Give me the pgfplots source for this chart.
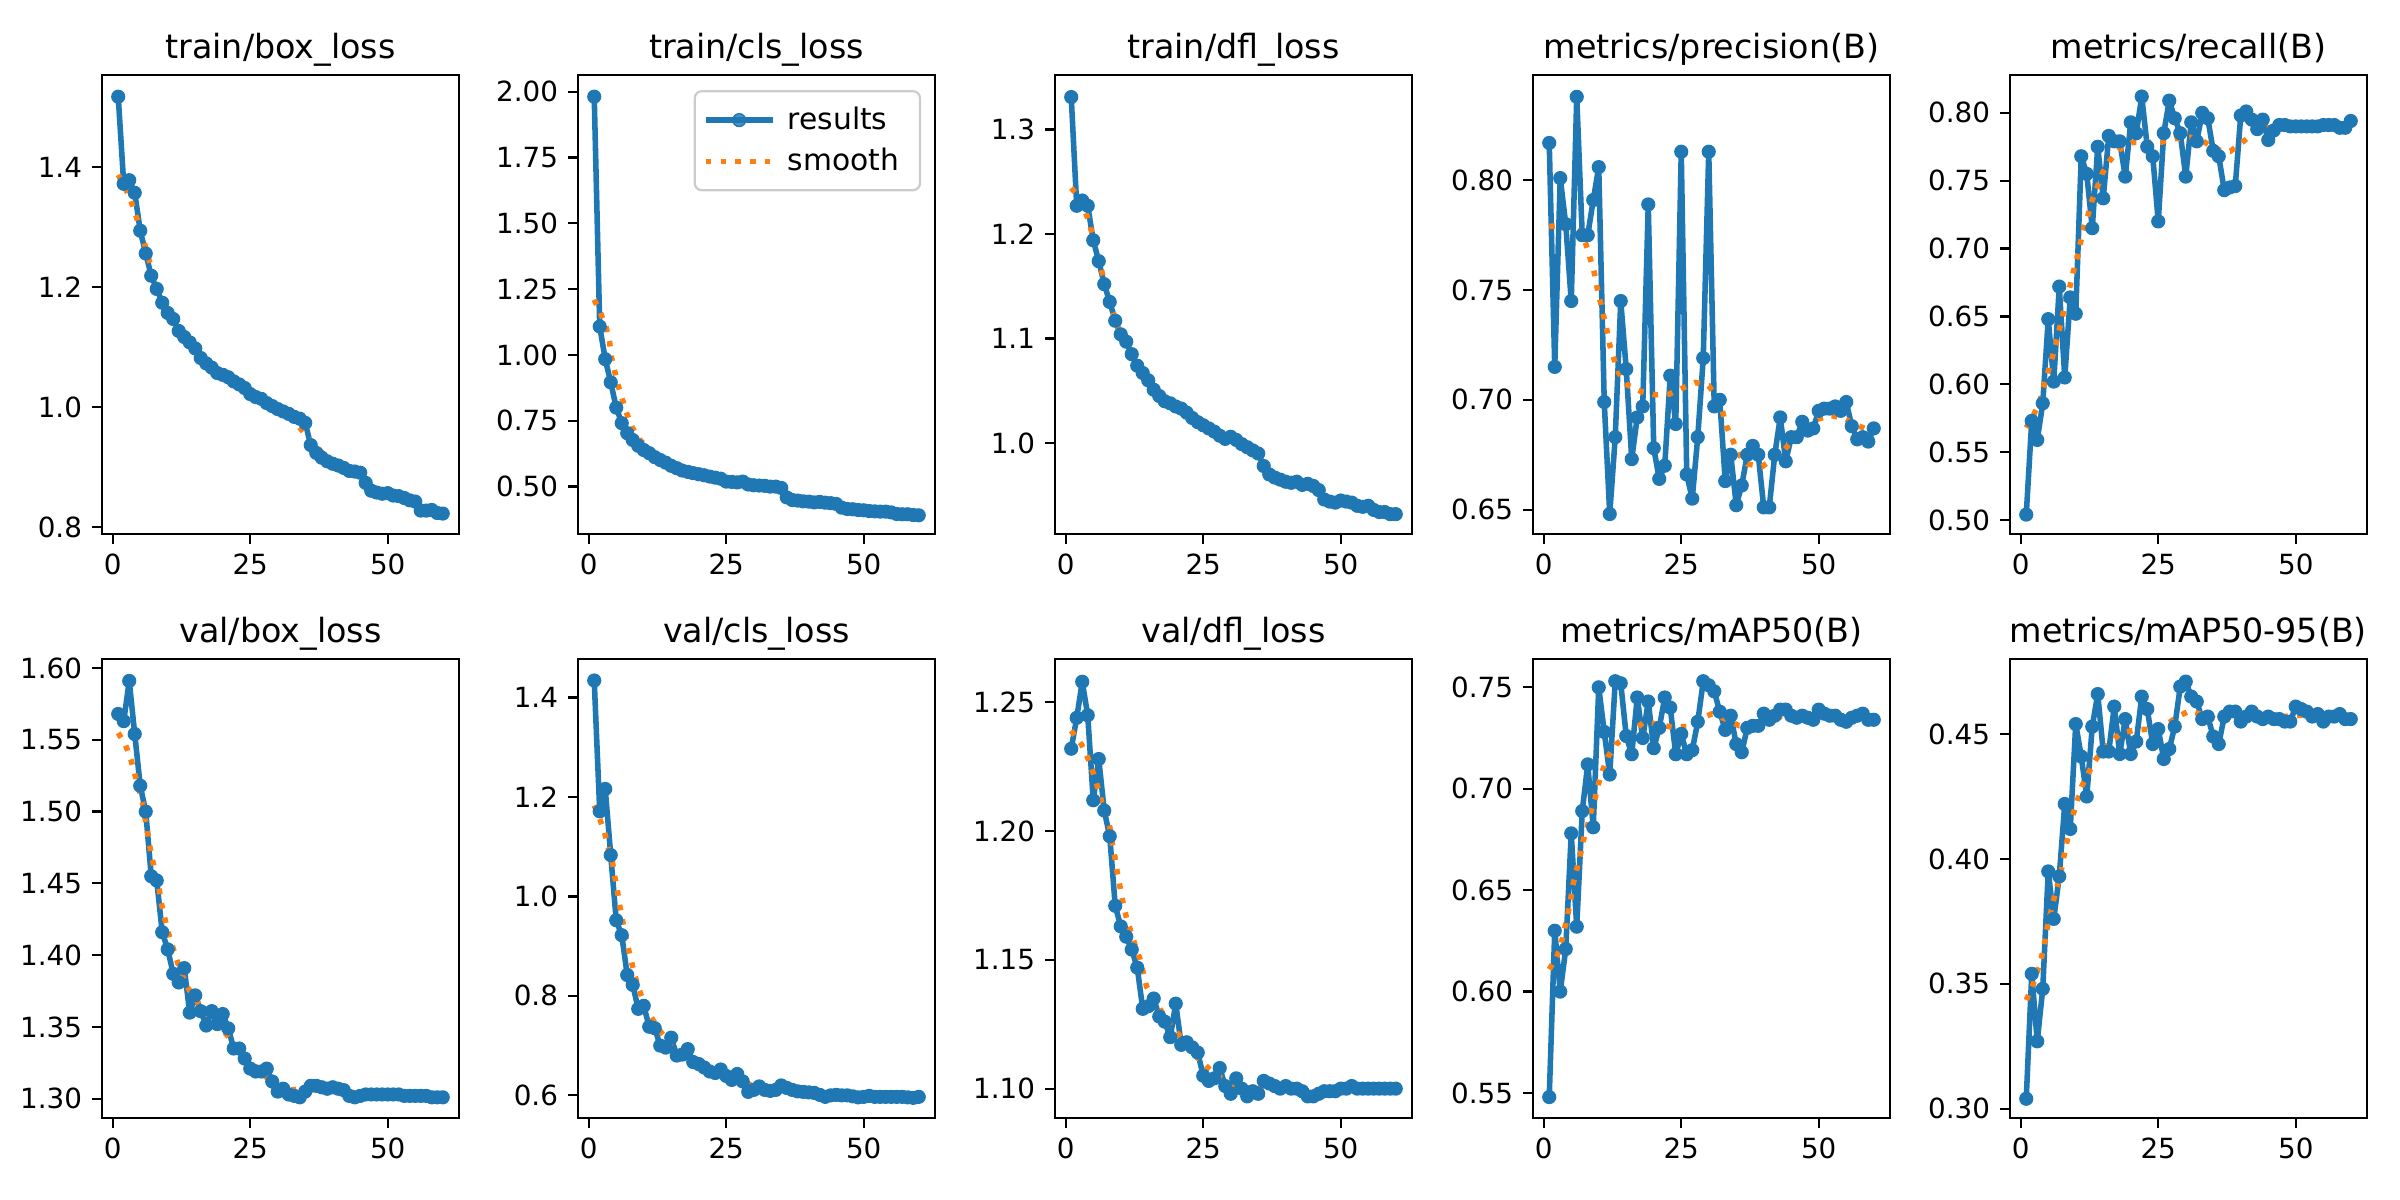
\documentclass[border=0pt]{standalone}
\usepackage{fontspec}
\setmainfont{DejaVu Sans}
\usepackage{pgfplots}
\usepackage{pgfplotstable}
\pgfplotsset{compat=1.18}

\definecolor{tabblue}{HTML}{1F77B4}
\definecolor{taborange}{HTML}{FF7F0E}

% per-epoch training log: losses and validation metrics
\pgfplotstableread{
ep tbox  tcls  tdfl  prec  rec   vbox  vcls  vdfl  mapf  mapb
1  1.517 1.981 1.331 0.817 0.504 1.568 1.434 1.232 0.548 0.304
2  1.372 1.108 1.227 0.715 0.573 1.563 1.171 1.244 0.630 0.354
3  1.378 0.984 1.232 0.801 0.559 1.591 1.216 1.258 0.600 0.327
4  1.357 0.896 1.227 0.780 0.586 1.554 1.083 1.245 0.621 0.348
5  1.294 0.800 1.194 0.745 0.648 1.518 0.952 1.212 0.678 0.395
6  1.256 0.741 1.174 0.838 0.602 1.500 0.922 1.228 0.632 0.376
7  1.219 0.703 1.152 0.775 0.672 1.455 0.842 1.208 0.689 0.393
8  1.197 0.677 1.135 0.775 0.605 1.452 0.822 1.198 0.712 0.422
9  1.174 0.655 1.117 0.791 0.664 1.416 0.774 1.171 0.681 0.412
10 1.157 0.639 1.104 0.806 0.652 1.404 0.780 1.163 0.750 0.454
11 1.147 0.627 1.097 0.699 0.768 1.387 0.738 1.159 0.728 0.441
12 1.127 0.612 1.085 0.648 0.755 1.381 0.735 1.154 0.707 0.425
13 1.117 0.601 1.074 0.683 0.715 1.391 0.700 1.147 0.753 0.453
14 1.108 0.591 1.067 0.745 0.775 1.360 0.696 1.131 0.752 0.466
15 1.098 0.579 1.060 0.714 0.737 1.372 0.716 1.132 0.726 0.443
16 1.082 0.570 1.051 0.673 0.783 1.361 0.680 1.135 0.717 0.443
17 1.073 0.561 1.045 0.692 0.779 1.351 0.682 1.128 0.745 0.461
18 1.066 0.556 1.040 0.697 0.779 1.361 0.693 1.126 0.725 0.442
19 1.057 0.551 1.038 0.789 0.753 1.352 0.667 1.120 0.743 0.456
20 1.054 0.547 1.035 0.678 0.793 1.359 0.663 1.133 0.720 0.442
21 1.050 0.543 1.033 0.664 0.785 1.349 0.656 1.117 0.730 0.447
22 1.043 0.538 1.029 0.670 0.812 1.335 0.648 1.118 0.745 0.465
23 1.038 0.534 1.024 0.711 0.775 1.335 0.645 1.116 0.740 0.460
24 1.032 0.530 1.020 0.689 0.768 1.328 0.652 1.114 0.717 0.446
25 1.022 0.519 1.017 0.813 0.720 1.321 0.639 1.105 0.727 0.452
26 1.017 0.518 1.014 0.666 0.785 1.319 0.631 1.103 0.717 0.440
27 1.014 0.516 1.011 0.655 0.809 1.319 0.643 1.104 0.719 0.444
28 1.007 0.519 1.007 0.683 0.796 1.321 0.628 1.108 0.733 0.453
29 1.002 0.508 1.004 0.719 0.785 1.312 0.607 1.101 0.753 0.469
30 0.997 0.505 1.006 0.813 0.753 1.305 0.611 1.098 0.751 0.471
31 0.993 0.504 1.003 0.697 0.793 1.307 0.618 1.104 0.748 0.465
32 0.989 0.503 0.999 0.700 0.779 1.303 0.611 1.100 0.738 0.463
33 0.984 0.500 0.996 0.663 0.800 1.302 0.609 1.097 0.729 0.456
34 0.981 0.500 0.993 0.675 0.796 1.301 0.611 1.099 0.736 0.457
35 0.974 0.495 0.990 0.652 0.772 1.305 0.620 1.098 0.722 0.449
36 0.937 0.459 0.978 0.661 0.768 1.309 0.615 1.103 0.718 0.446
37 0.924 0.449 0.970 0.675 0.743 1.309 0.611 1.102 0.730 0.457
38 0.916 0.447 0.967 0.679 0.745 1.308 0.608 1.101 0.731 0.459
39 0.910 0.444 0.965 0.675 0.746 1.307 0.607 1.100 0.731 0.459
40 0.906 0.443 0.963 0.651 0.798 1.308 0.606 1.101 0.737 0.455
41 0.903 0.440 0.962 0.651 0.801 1.307 0.605 1.100 0.734 0.457
42 0.899 0.442 0.963 0.675 0.795 1.306 0.601 1.100 0.736 0.459
43 0.894 0.439 0.960 0.692 0.788 1.302 0.597 1.099 0.739 0.457
44 0.893 0.437 0.961 0.672 0.795 1.301 0.600 1.097 0.739 0.456
45 0.891 0.434 0.959 0.683 0.780 1.302 0.601 1.097 0.736 0.457
46 0.874 0.420 0.955 0.683 0.787 1.303 0.600 1.098 0.735 0.456
47 0.861 0.415 0.946 0.690 0.791 1.303 0.600 1.099 0.736 0.456
48 0.858 0.414 0.944 0.686 0.791 1.303 0.598 1.099 0.735 0.455
49 0.856 0.411 0.943 0.687 0.790 1.303 0.596 1.099 0.734 0.455
50 0.857 0.410 0.945 0.695 0.790 1.303 0.597 1.100 0.739 0.461
51 0.853 0.407 0.944 0.696 0.790 1.303 0.599 1.100 0.737 0.460
52 0.852 0.406 0.943 0.696 0.790 1.303 0.597 1.101 0.736 0.459
53 0.849 0.405 0.940 0.697 0.790 1.302 0.597 1.100 0.736 0.457
54 0.845 0.405 0.939 0.695 0.790 1.302 0.597 1.100 0.734 0.458
55 0.843 0.402 0.940 0.699 0.791 1.302 0.597 1.100 0.733 0.455
56 0.828 0.396 0.936 0.688 0.791 1.302 0.597 1.100 0.735 0.457
57 0.828 0.395 0.934 0.682 0.791 1.302 0.597 1.100 0.736 0.457
58 0.829 0.395 0.934 0.683 0.789 1.301 0.596 1.100 0.737 0.458
59 0.824 0.392 0.932 0.681 0.789 1.301 0.595 1.100 0.734 0.456
60 0.823 0.391 0.932 0.687 0.794 1.301 0.597 1.100 0.734 0.456
}\results

\pgfplotsset{
  panel/.style={
    scale only axis, width=128.5bp, height=165.2bp, anchor=south west,
    xmin=-1.95, xmax=62.95, xtick={0,25,50},
    tick pos=left, tick align=outside, major tick length=3.5bp,
    tick style={line width=0.8bp, black},
    line width=0.8bp,
    ticklabel style={font=\fontsize{10bp}{12bp}\selectfont},
    every axis title shift=0pt,
    title style={font=\fontsize{12bp}{14bp}\selectfont, at={(0.5,1)}, anchor=base, yshift=6bp, inner sep=0pt},
    /pgf/number format/assume math mode=true,
    scaled y ticks=false,
    yticklabel style={/pgf/number format/.cd, fixed, fixed zerofill, precision=#1},
    legend image code/.code={\draw[mark repeat=2,mark phase=2] plot coordinates {(0bp,0bp) (12bp,0bp) (24bp,0bp)};},
  },
  res/.style={color=tabblue, line width=2bp, line join=round, mark=*, mark size=2.3bp, mark options={solid, fill=tabblue, draw=tabblue, line width=0.5bp}},
  smo/.style={color=taborange, line width=2bp, dash pattern=on 2bp off 3.3bp, no marks},
}

\begin{document}
\begin{tikzpicture}
\useasboundingbox (0,0) rectangle (864bp,432bp);

% ---------------- top row ----------------
\begin{axis}[panel=1, at={(36.72bp,239.76bp)}, title={train/box\_loss},
  ymin=0.789, ymax=1.553, ytick={0.8,1.0,1.2,1.4}]
\addplot[res] table[x=ep, y=tbox] {\results};
\addplot[smo] coordinates {(1,1.387) (3,1.352) (5,1.298) (7,1.232) (9,1.182) (11,1.145) (13,1.118) (15,1.097) (17,1.075) (19,1.060) (21,1.049) (23,1.038) (25,1.026) (27,1.014) (29,1.003) (31,0.994) (32.4,0.981) (34.3,0.963) (36,0.944) (37.8,0.927) (39,0.914) (41,0.903) (43,0.895) (45,0.885) (47,0.866) (49,0.857) (51,0.853) (53,0.848) (55,0.840) (57,0.831) (59,0.826) (60,0.825)};
\end{axis}

\begin{axis}[panel=2, at={(208.08bp,239.76bp)}, title={train/cls\_loss},
  ymin=0.320, ymax=2.063, ytick={0.5,0.75,1.0,1.25,1.5,1.75,2.0},
  legend style={at={(1,1)}, anchor=north east, xshift=-5bp, yshift=-5.4bp,
    draw=black!20, line width=0.8bp, rounded corners=2.5bp, fill=white, fill opacity=0.8, text opacity=1,
    font=\fontsize{10.7bp}{12.8bp}\selectfont, inner xsep=3bp, inner ysep=3bp, row sep=0bp,
    nodes={inner xsep=4.5bp, inner ysep=2.6bp}},
  legend cell align=left]
\addplot[res] table[x=ep, y=tcls] {\results};
\addlegendentry{results}
\addplot[smo] coordinates {(1,1.210) (2.2,1.157) (3.2,1.102) (3.8,1.048) (4.1,0.995) (4.7,0.940) (5.3,0.887) (6.1,0.832) (6.9,0.779) (7.8,0.728) (9.3,0.677) (11.2,0.637) (13.2,0.604) (15.7,0.576) (18.1,0.557) (20.8,0.544) (23.5,0.534) (26,0.523) (28.7,0.515) (31.4,0.504) (34,0.491) (36.4,0.467) (39,0.447) (41.7,0.442) (44.2,0.434) (46.9,0.424) (49.6,0.414) (52.2,0.409) (54.8,0.404) (57.5,0.401) (60,0.396)};
\addlegendentry{smooth}
\end{axis}

\begin{axis}[panel=1, at={(379.8bp,239.76bp)}, title={train/dfl\_loss},
  ymin=0.913, ymax=1.352, ytick={1.0,1.1,1.2,1.3}]
\addplot[res] table[x=ep, y=tdfl] {\results};
\addplot[smo] coordinates {(1,1.244) (2,1.238) (3,1.229) (4,1.215) (5,1.197) (6,1.176) (7,1.155) (8,1.136) (9,1.119) (10,1.104) (12,1.084) (14,1.067) (16,1.052) (18,1.042) (20,1.036) (22,1.029) (24,1.021) (26,1.014) (28,1.007) (30,1.004) (32,0.999) (34,0.991) (36,0.979) (38,0.969) (40,0.964) (42,0.962) (44,0.960) (46,0.954) (48,0.946) (50,0.944) (52,0.942) (54,0.940) (56,0.937) (58,0.934) (60,0.933)};
\end{axis}

\begin{axis}[panel=2, at={(551.88bp,239.76bp)}, title={metrics/precision(B)},
  ymin=0.6389, ymax=0.8479, ytick={0.65,0.70,0.75,0.80}]
\addplot[res] table[x=ep, y=prec] {\results};
\addplot[smo] coordinates {(1,0.779) (4.2,0.7795) (6.5,0.7767) (7.7,0.7707) (8.5,0.764) (9.2,0.7578) (9.7,0.751) (10.3,0.7445) (10.9,0.738) (11.5,0.7315) (12,0.725) (12.8,0.7185) (13.7,0.712) (15.2,0.7068) (17.7,0.7038) (20.2,0.7023) (22.8,0.7026) (25.2,0.7053) (27.6,0.7079) (30,0.7064) (31.6,0.7008) (32.5,0.6947) (33.2,0.6881) (34.3,0.6821) (35.3,0.6757) (37,0.6708) (39.7,0.6696) (42.1,0.6739) (43.8,0.6775) (45.6,0.6825) (47.6,0.6868) (49.8,0.6912) (52.3,0.6929) (54.8,0.6912) (57.3,0.6881) (59.6,0.6856) (60,0.6853)};
\end{axis}

\begin{axis}[panel=2, at={(723.6bp,239.76bp)}, title={metrics/recall(B)},
  ymin=0.4897, ymax=0.8278, ytick={0.50,0.55,0.60,0.65,0.70,0.75,0.80}]
\addplot[res] table[x=ep, y=rec] {\results};
\addplot[smo] coordinates {(1,0.568) (2.4,0.578) (3.5,0.5873) (4.1,0.5976) (4.9,0.6082) (5.7,0.6193) (6.4,0.6296) (7,0.6402) (7.6,0.6505) (8.2,0.661) (8.9,0.6714) (9.5,0.682) (10.2,0.6925) (10.8,0.7033) (11.4,0.7139) (12.2,0.7242) (12.9,0.7348) (13.9,0.7451) (14.8,0.7552) (16.1,0.7643) (17.9,0.7729) (20.4,0.7783) (22.9,0.7783) (25.5,0.7783) (28.1,0.781) (30.8,0.782) (33.2,0.779) (35.5,0.7729) (38.1,0.7717) (40.3,0.7783) (42.5,0.7857) (44.8,0.7889) (47.5,0.7894) (50.1,0.7896) (52.9,0.7901) (55.6,0.7901) (58.3,0.7909) (60,0.7914)};
\end{axis}

% ---------------- bottom row ----------------
\begin{axis}[panel=2, at={(36.72bp,29.52bp)}, title={val/box\_loss},
  ymin=1.2866, ymax=1.6062, ytick={1.30,1.35,1.40,1.45,1.50,1.55,1.60}]
\addplot[res] table[x=ep, y=vbox] {\results};
\addplot[smo] coordinates {(1,1.5548) (2.3,1.5467) (3.3,1.5363) (4,1.5263) (4.7,1.5164) (5.4,1.5066) (5.8,1.4967) (6.3,1.4865) (6.7,1.4765) (7.2,1.4666) (7.8,1.4568) (8.4,1.4469) (8.8,1.4367) (9.4,1.4267) (10,1.4167) (10.8,1.407) (11.6,1.3971) (12.5,1.3873) (13.6,1.3776) (15.1,1.3688) (16.8,1.3607) (18.5,1.3533) (20.4,1.3461) (22.1,1.338) (23.9,1.3306) (25.7,1.3232) (27.6,1.316) (30,1.3093) (32.4,1.3063) (35.1,1.3067) (37.9,1.3067) (40.6,1.3058) (43.2,1.3044) (45.9,1.3035) (48.5,1.303) (51.2,1.3028) (54,1.3023) (56.6,1.3019) (59.4,1.3016) (60,1.3015)};
\end{axis}

\begin{axis}[panel=1, at={(208.08bp,29.52bp)}, title={val/cls\_loss},
  ymin=0.5545, ymax=1.477, ytick={0.6,0.8,1.0,1.2,1.4}]
\addplot[res] table[x=ep, y=vcls] {\results};
\addplot[smo] coordinates {(1,1.1829) (2,1.1561) (2.9,1.1281) (3.5,1.0993) (4.3,1.0706) (4.7,1.0412) (5.2,1.0124) (5.6,0.9837) (6.1,0.9543) (6.6,0.9255) (7.2,0.8955) (7.8,0.8674) (8.4,0.8406) (9.1,0.8139) (10.1,0.7852) (11.4,0.7564) (12.8,0.7317) (14.4,0.7096) (16.6,0.6896) (18.7,0.6715) (21.1,0.6582) (23.5,0.6461) (26,0.6348) (28.4,0.6247) (31.1,0.6167) (33.9,0.6134) (36.6,0.6107) (39.2,0.608) (41.8,0.6047) (44.5,0.6027) (47.2,0.6013) (49.9,0.6) (52.6,0.5993) (55.4,0.598) (57.8,0.5973) (60,0.5973)};
\end{axis}

\begin{axis}[panel=2, at={(379.8bp,29.52bp)}, title={val/dfl\_loss},
  ymin=1.0886, ymax=1.2668, ytick={1.10,1.15,1.20,1.25}]
\addplot[res] table[x=ep, y=vdfl] {\results};
\addplot[smo] coordinates {(1,1.239) (2.9,1.2335) (4.1,1.228) (5,1.2226) (5.8,1.2171) (6.5,1.2115) (7.5,1.2061) (8.1,1.2007) (8.5,1.1947) (9,1.1891) (9.4,1.1835) (9.9,1.178) (10.4,1.1723) (11,1.1667) (11.8,1.1612) (12.6,1.1558) (13.5,1.1503) (14.7,1.1396) (16.2,1.1345) (17.4,1.13) (18.9,1.1248) (20.6,1.1209) (23.8,1.1123) (25.9,1.108) (28,1.1045) (30.3,1.1018) (32.9,1.1003) (35.6,1.1003) (38.3,1.1003) (40.9,1.0996) (43.6,1.099) (46.2,1.099) (48.9,1.0992) (51.6,1.0996) (54.3,1.0999) (57,1.1) (59.5,1.1003) (60,1.1003)};
\end{axis}

\begin{axis}[panel=2, at={(551.88bp,29.52bp)}, title={metrics/mAP50(B)},
  ymin=0.5377, ymax=0.7639, ytick={0.55,0.60,0.65,0.70,0.75}]
\addplot[res] table[x=ep, y=mapf] {\results};
\addplot[smo] coordinates {(1,0.611) (2.4,0.6172) (3.2,0.6241) (3.8,0.6311) (4.4,0.6382) (4.9,0.6454) (5.3,0.6525) (5.9,0.6593) (6.6,0.6664) (7.1,0.6738) (7.9,0.6808) (8.5,0.688) (9.3,0.6948) (9.9,0.702) (10.7,0.709) (11.7,0.7159) (13.2,0.7221) (15.3,0.7259) (18,0.7325) (20.6,0.732) (23.3,0.7303) (26.1,0.7307) (28.2,0.7344) (30.6,0.7369) (33,0.7344) (35.5,0.7311) (38.2,0.7311) (40.6,0.7336) (43.2,0.7356) (45.9,0.7361) (48.6,0.7361) (51.2,0.7357) (53.9,0.7352) (56.5,0.7352) (59.1,0.7348) (60,0.7347)};
\end{axis}

\begin{axis}[panel=2, at={(723.6bp,29.52bp)}, title={metrics/mAP50-95(B)},
  ymin=0.2963, ymax=0.48, ytick={0.30,0.35,0.40,0.45}]
\addplot[res] table[x=ep, y=mapb] {\results};
\addplot[smo] coordinates {(1,0.3435) (2.1,0.3488) (2.9,0.3542) (3.7,0.3599) (4.3,0.3658) (4.7,0.3715) (5.3,0.3772) (5.9,0.3831) (6.6,0.3888) (7.3,0.3945) (7.8,0.4005) (8.3,0.4061) (8.9,0.4118) (9.5,0.4177) (10.3,0.4234) (11.1,0.4291) (12.3,0.4344) (13.7,0.44) (15.6,0.4453) (18.2,0.4504) (20.8,0.4516) (23.5,0.452) (26.1,0.4531) (28.3,0.4567) (30.7,0.4593) (33.2,0.4576) (35.8,0.4557) (38.5,0.456) (41,0.4567) (43.7,0.4567) (46.5,0.4567) (49.1,0.4573) (51.8,0.4576) (54.4,0.4571) (57.1,0.4569) (59.7,0.4567) (60,0.4567)};
\end{axis}
\end{tikzpicture}
\end{document}
